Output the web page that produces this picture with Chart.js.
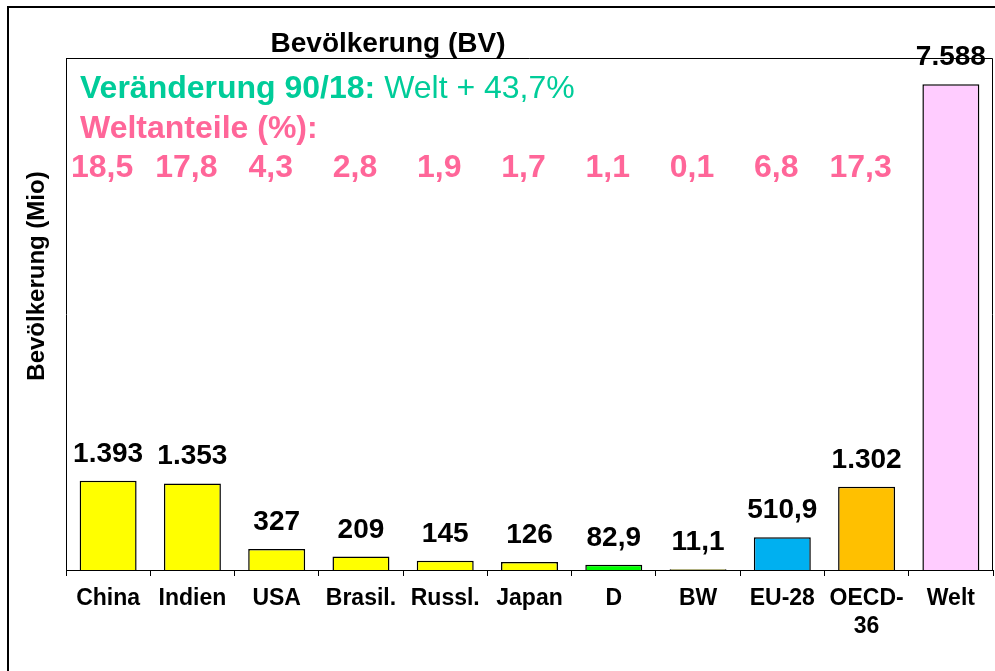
<!DOCTYPE html>
<html>
<head>
<meta charset="utf-8">
<script src="https://cdn.jsdelivr.net/npm/chart.js@4.4.1/dist/chart.umd.min.js"></script>
<style>
html,body{margin:0;padding:0;background:#fff;}
#wrap{position:relative;width:995px;height:671px;}
</style>
</head>
<body>
<div id="wrap"><canvas id="c" width="995" height="671"></canvas></div>
<script>
const categories = ['China','Indien','USA','Brasil.','Russl.','Japan','D','BW','EU-28',['OECD-','36'],'Welt'];
const population = [1393, 1353, 327, 209, 145, 126, 82.9, 11.1, 510.9, 1302, 7588];
const barColors = ['#FFFF00','#FFFF00','#FFFF00','#FFFF00','#FFFF00','#FFFF00','#00FF00','#FFFF00','#00B0F0','#FFC000','#FFCCFF'];
const weltanteile = ['18,5','17,8','4,3','2,8','1,9','1,7','1,1','0,1','6,8','17,3'];
const titleText = 'Bevölkerung (BV)';
const yTitleText = 'Bevölkerung (Mio)';
const changeBold = 'Veränderung 90/18:';
const changeRest = ' Welt + 43,7%';
const shareTitle = 'Weltanteile (%):';
const yMax = 8000;

const FONT = '"Liberation Sans", Arial, Helvetica, sans-serif';

function fmtDE(v){
  let s;
  if (Number.isInteger(v)) {
    s = String(v).replace(/\B(?=(\d{3})+(?!\d))/g, '.');
  } else {
    const parts = v.toFixed(1).split('.');
    s = parts[0].replace(/\B(?=(\d{3})+(?!\d))/g, '.') + ',' + parts[1];
  }
  return s;
}

const decorPlugin = {
  id: 'decor',
  beforeDraw(chart){
    const ctx = chart.ctx;
    ctx.save();
    ctx.fillStyle = '#fff';
    ctx.fillRect(0,0,chart.width,chart.height);
    ctx.strokeStyle = '#000';
    ctx.lineWidth = 2;
    ctx.beginPath();
    ctx.moveTo(8, chart.height);
    ctx.lineTo(8, 7);
    ctx.lineTo(chart.width, 7);
    ctx.stroke();
    ctx.restore();
  },
  afterDraw(chart){
    const ctx = chart.ctx;
    const a = chart.chartArea;
    const xs = chart.scales.x;
    ctx.save();
    ctx.strokeStyle = '#000';
    ctx.lineWidth = 1;
    ctx.beginPath();
    ctx.moveTo(a.left, a.top + 0.5);
    ctx.lineTo(a.right - 0.5, a.top + 0.5);
    ctx.lineTo(a.right - 0.5, a.bottom);
    ctx.stroke();

    ctx.fillStyle = '#000';
    ctx.font = 'bold 28px ' + FONT;
    ctx.textAlign = 'center';
    ctx.textBaseline = 'alphabetic';
    ctx.fillText(titleText, 388, 52);

    ctx.save();
    ctx.translate(43.5, 276);
    ctx.rotate(-Math.PI/2);
    ctx.font = 'bold 24px ' + FONT;
    ctx.textAlign = 'center';
    ctx.fillText(yTitleText, 0, 0);
    ctx.restore();

    const tx = a.left + 14;
    ctx.textAlign = 'left';
    ctx.fillStyle = '#00CC99';
    ctx.font = 'bold 32px ' + FONT;
    ctx.fillText(changeBold, tx, 98);
    const w = ctx.measureText(changeBold).width;
    ctx.font = '32px ' + FONT;
    ctx.fillText(changeRest, tx + w, 98);

    ctx.fillStyle = '#FF6699';
    ctx.font = 'bold 32px ' + FONT;
    ctx.fillText(shareTitle, tx, 138);

    ctx.textAlign = 'center';
    weltanteile.forEach((s, i) => {
      const x = xs.getPixelForValue(i) - 6;
      ctx.fillText(s, x, 177);
    });

    const meta = chart.getDatasetMeta(0);
    ctx.fillStyle = '#000';
    ctx.font = 'bold 28px ' + FONT;
    ctx.textAlign = 'center';
    meta.data.forEach((bar, i) => {
      ctx.fillText(fmtDE(population[i]), bar.x, bar.y - 19);
    });
    ctx.restore();
  }
};

new Chart(document.getElementById('c'), {
  type: 'bar',
  data: {
    labels: categories,
    datasets: [{
      data: population,
      backgroundColor: barColors,
      borderColor: '#000',
      borderWidth: 1.5,
      categoryPercentage: 1,
      barPercentage: 0.676
    }]
  },
  options: {
    responsive: false,
    devicePixelRatio: 1,
    animation: false,
    events: [],
    layout: { padding: { top: 58, left: 66, right: 2, bottom: 0 } },
    plugins: { legend: { display: false }, title: { display: false }, tooltip: { enabled: false } },
    scales: {
      x: {
        grid: { display: true, drawOnChartArea: false, drawTicks: true, tickLength: 6, color: '#000', lineWidth: 1, offset: true },
        border: { display: true, color: '#000', width: 1 },
        ticks: { color: '#000', font: { family: FONT, size: 23, weight: 'bold', lineHeight: 1.2 }, padding: 9, maxRotation: 0, autoSkip: false },
        afterFit(s){ s.height = 101; }
      },
      y: {
        min: 0, max: yMax,
        grid: { display: false },
        border: { display: true, color: '#000', width: 1 },
        ticks: { display: false },
        afterFit(s){ s.width = 0; }
      }
    }
  },
  plugins: [decorPlugin]
});
</script>
</body>
</html>
